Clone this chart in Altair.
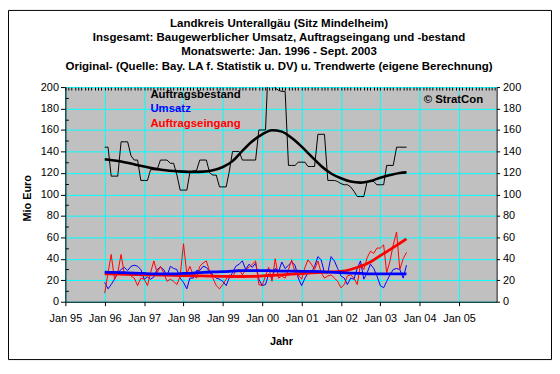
import altair as alt
import pandas as pd

FONT = "Liberation Sans"

# ---------------- data (Mio Euro), monthly from Jan 1996 to Sep 2003 ----------------
START = "1996-01-01"

BESTAND = [144, 144, 117, 117, 117, 149, 149, 149, 136, 132,
           132, 113, 113, 113, 123, 123, 123, 132, 132, 132,
           129, 129, 118, 104, 104, 104, 120, 122, 122, 132,
           132, 132, 120, 118, 118, 107, 107, 107, 121, 140,
           140, 140, 132, 132, 132, 132, 132, 160, 160, 160,
           230, 230, 199, 197, 196, 196, 127, 127, 127, 130,
           130, 130, 126, 126, 126, 156, 156, 156, 113, 113,
           113, 112, 110, 109, 109, 107, 103, 98, 98, 98,
           112, 112, 112, 109, 109, 109, 127, 127, 127, 144,
           144, 144, 144]

UMSATZ = [18, 12, 16, 21, 27, 30, 32, 29, 33, 34,
          33, 30, 21, 23, 21, 23, 30, 32, 30, 24,
          33, 31, 30, 22, 18, 12, 22, 22, 29, 29,
          33, 32, 28, 25, 22, 21, 19, 15, 22, 27,
          33, 35, 38, 30, 35, 32, 36, 21, 15, 16,
          26, 22, 31, 28, 37, 31, 34, 37, 34, 22,
          15, 22, 27, 27, 33, 42, 39, 27, 27, 42,
          38, 31, 24, 22, 16, 22, 21, 31, 38, 21,
          27, 35, 31, 24, 15, 13, 19, 25, 30, 31,
          30, 22, 34]

EINGANG = [8, 27, 44, 21, 27, 44, 26, 27, 24, 22,
           15, 22, 21, 15, 27, 38, 27, 33, 27, 19,
           21, 19, 16, 24, 54, 26, 33, 25, 22, 33,
           36, 38, 28, 22, 15, 12, 16, 21, 25, 23,
           29, 30, 25, 30, 32, 35, 38, 16, 15, 24,
           32, 19, 40, 22, 24, 22, 30, 39, 27, 25,
           21, 32, 39, 35, 30, 38, 27, 22, 24, 25,
           22, 19, 13, 16, 24, 25, 22, 16, 35, 30,
           41, 47, 45, 50, 50, 53, 27, 38, 53, 65,
           30, 40, 46]

# trend values, read at these month offsets from Jan 1996
TREND_OFFSETS = [0, 3, 6, 9, 12, 15, 18, 21, 24, 27, 30, 33, 36, 39, 42, 45,
                 48, 51, 54, 57, 60, 63, 66, 69, 72, 75, 78, 81, 84, 87, 90, 92]
T_BESTAND = [132.7, 131.5, 130, 128, 126, 124, 122.8, 121.8, 121.2, 121, 121.2, 122.5,
             125.5, 131, 140.5, 149.5, 156, 159.8, 158.5, 152.5, 144.5, 135.5, 126.5,
             119.5, 115, 112, 111, 112.5, 115.5, 118, 120, 120.5]
T_UMSATZ = [27.5, 27.3, 27, 26.7, 26.3, 26, 26, 26, 26.3, 26.7, 27.3, 27.7,
            28, 28.5, 29, 29, 29, 28.8, 28.6, 28.5, 28.3, 28.2, 28, 27.5,
            27, 26.6, 26.3, 26, 26, 26, 26, 26]
T_EINGANG = [26, 25.8, 25.5, 25.3, 25, 25, 24.8, 24.6, 24.4, 24.2, 24, 23.8,
             23.6, 23.5, 23.5, 23.6, 24, 24.5, 25, 25.6, 26.2, 26.8, 27.3, 27.7,
             28.2, 30, 33, 37, 43, 48.5, 54.5, 58.5]

TITLE_LINES = ["Landkreis Unterallgäu (Sitz Mindelheim)",
               "Insgesamt: Baugewerblicher Umsatz, Auftragseingang und -bestand",
               "Monatswerte: Jan. 1996 - Sept. 2003",
               "Original- (Quelle: Bay. LA f. Statistik u. DV) u. Trendwerte (eigene Berechnung)"]
Y_TICKS = [0, 20, 40, 60, 80, 100, 120, 140, 160, 180, 200]
Y_MINOR = [10, 30, 50, 70, 90, 110, 130, 150, 170, 190]
YEARS = list(range(1995, 2006))

# ---------------- tables ----------------
dates = pd.date_range(START, periods=len(BESTAND), freq="MS")
raw = pd.DataFrame({"date": dates, "Auftragsbestand": BESTAND,
                    "Umsatz": UMSATZ, "Auftragseingang": EINGANG})
trend = pd.DataFrame({"date": [dates[k] for k in TREND_OFFSETS],
                      "TB": T_BESTAND, "TU": T_UMSATZ, "TE": T_EINGANG})
one = pd.DataFrame({"a": [0]})

# ---------------- scales & axes ----------------
xscale = alt.Scale(domain=[alt.DateTime(year=1995, month=1, date=1),
                           alt.DateTime(year=2005, month=12, date=15)])
yscale = alt.Scale(domain=[0, 200], nice=False)

GRID = "#00FFFF"
lab = dict(labelFont=FONT, labelFontSize=11, labelColor="black")
ttl = dict(titleFont=FONT, titleFontSize=11, titleFontWeight="bold", titleColor="black")

x_main_axis = alt.Axis(values=[alt.DateTime(year=y, month=1, date=1) for y in YEARS],
                       format="%b %y", labelPadding=7, tickSize=4, tickColor="black",
                       domainColor="black", grid=True, gridColor=GRID, gridOpacity=1,
                       labelOverlap=False, labelFlush=False, title="Jahr",
                       titleY=40, titleBaseline="middle", **lab, **ttl)
x_minor_axis = alt.Axis(tickCount=alt.TimeIntervalStep(interval="month", step=1),
                        labels=False, domain=False, grid=False, tickSize=3,
                        tickColor="black", offset=-3, title="")
y_left_axis = alt.Axis(values=Y_TICKS, tickSize=5, labelPadding=2, tickColor="black",
                       domainColor="black", grid=True, gridColor=GRID, gridOpacity=1,
                       title="Mio Euro", titleX=-38, titleY=112, titleBaseline="middle",
                       labelFlush=False, **lab, **ttl)
y_right_axis = alt.Axis(orient="right", values=Y_TICKS, tickSize=3, labelPadding=3,
                        tickColor="black", domainColor="black", grid=False,
                        labelFlush=False, title="", **lab)
y_minor_axis = alt.Axis(orient="left", values=Y_MINOR, labels=False, domain=False,
                        grid=False, tickSize=3, tickColor="black", offset=-3, title="")

xn = alt.X("date:T", scale=xscale, axis=None)

l_best = alt.Chart(raw).mark_line(color="black", strokeWidth=1, clip=True).encode(
    x=alt.X("date:T", scale=xscale, axis=x_main_axis),
    y=alt.Y("Auftragsbestand:Q", scale=yscale, axis=y_left_axis))
l_ums = alt.Chart(raw).mark_line(color="#0000FF", strokeWidth=1).encode(
    x=alt.X("date:T", scale=xscale, axis=x_minor_axis),
    y=alt.Y("Umsatz:Q", scale=yscale, axis=y_right_axis))
l_ein = alt.Chart(raw).mark_line(color="#FF0000", strokeWidth=1).encode(
    x=xn, y=alt.Y("Auftragseingang:Q", scale=yscale, axis=y_minor_axis))

t_best = alt.Chart(trend).mark_line(color="black", strokeWidth=2.6, interpolate="monotone").encode(
    x=xn, y=alt.Y("TB:Q", scale=yscale, axis=None))
t_ein = alt.Chart(trend).mark_line(color="#FF0000", strokeWidth=2.8, interpolate="monotone").encode(
    x=xn, y=alt.Y("TE:Q", scale=yscale, axis=None))
t_ums = alt.Chart(trend).mark_line(color="#0000FF", strokeWidth=2.8, interpolate="monotone").encode(
    x=xn, y=alt.Y("TU:Q", scale=yscale, axis=None))


def label(text, color, when, val):
    return alt.Chart(one).mark_text(text=text, color=color, font=FONT, fontSize=11.5,
                                    fontWeight="bold", align="left", baseline="middle").encode(
        x=alt.XDatum(when, type="temporal", scale=xscale, axis=None),
        y=alt.YDatum(val, type="quantitative", scale=yscale, axis=None))


lab1 = label("Auftragsbestand", "black", alt.DateTime(year=1997, month=2, date=28), 192.6)
lab2 = label("Umsatz", "#0000FF", alt.DateTime(year=1997, month=2, date=28), 179.3)
lab3 = label("Auftragseingang", "#FF0000", alt.DateTime(year=1997, month=2, date=28), 165.9)
lab4 = label("© StratCon", "black", alt.DateTime(year=2004, month=2, date=7), 188)

# chart heading: four centred lines above the plot area
TITLE_Y = [-64, -49.5, -35, -20.5]
titles = [
    alt.Chart(one).mark_text(text=t, font=FONT, fontSize=11.6, fontWeight="bold",
                             color="black", align="center", baseline="middle").encode(
        x=alt.value(216), y=alt.value(ty))
    for t, ty in zip(TITLE_LINES, TITLE_Y)
]

border = alt.Chart(one).mark_rect(filled=False, stroke="black", strokeWidth=1).encode(
    x=alt.value(-57.5), x2=alt.value(491.5), y=alt.value(-77.5), y2=alt.value(275.5))

chart = alt.layer(
    l_best, l_ums, l_ein, t_best, t_ein, t_ums, lab1, lab2, lab3, lab4, *titles, border
).resolve_axis(x="independent", y="independent").properties(
    width=436, height=217,
    autosize=alt.AutoSizeParams(type="none"),
    padding={"left": 58, "top": 78, "right": 56, "bottom": 59},
    background="white",
).configure_view(fill="#C0C0C0", strokeWidth=0)

chart.save("out.html", embed_options={"renderer": "svg", "actions": False})
